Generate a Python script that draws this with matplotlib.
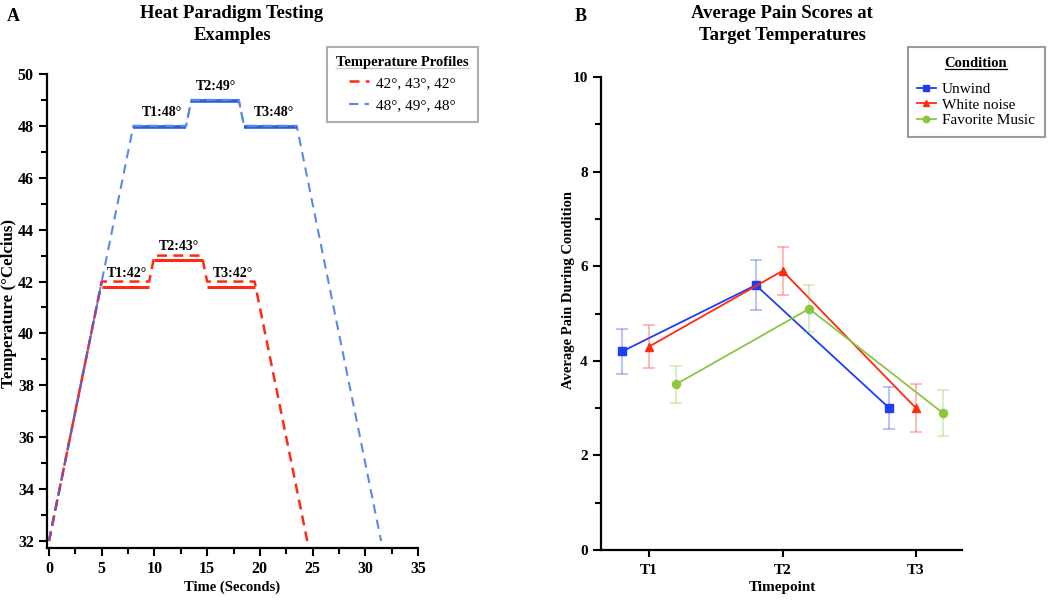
import matplotlib
matplotlib.use("Agg")
import matplotlib.pyplot as plt
from matplotlib.lines import Line2D
from matplotlib.patches import Rectangle
import numpy as np

plt.rcParams['font.family'] = ['Liberation Serif', 'DejaVu Serif']

# ---------------- Panel A data ----------------
red_time = [0, 5, 9.5, 10, 14.5, 15, 19.5, 24.5]
red_temp = [32, 42, 42, 43, 43, 42, 42, 32]
blue_time = [0, 8, 13, 13.5, 18, 18.5, 23.5, 31.5]
blue_temp = [32, 48, 48, 49, 49, 48, 48, 32]
ramp_time = [0, 5]
ramp_temp = [32, 42]
red_hold_start = [5, 10, 15]
red_hold_end = [9.5, 14.5, 19.5]
red_hold_temp = [41.8, 42.85, 41.8]
blue_hold_start = [8, 13.5, 18.5]
blue_hold_end = [13, 18, 23.5]
blue_hold_temp = [47.97, 48.97, 47.97]
red_labels = ["T1:42°", "T2:43°", "T3:42°"]
red_label_x = [7.4, 12.3, 17.4]
red_label_y = [42.05, 43.1, 42.05]
blue_labels = ["T1:48°", "T2:49°", "T3:48°"]
blue_label_x = [10.7, 15.8, 21.3]
blue_label_y = [48.25, 49.25, 48.25]
profile_names = ["42°, 43°, 42°", "48°, 49°, 48°"]

# ---------------- Panel B data ----------------
timepoints = ["T1", "T2", "T3"]
conditions = ["Unwind", "White noise", "Favorite Music"]
unwind_mean = [4.2, 5.6, 3.0]
unwind_err = [0.48, 0.53, 0.44]
white_mean = [4.3, 5.9, 3.0]
white_err = [0.45, 0.51, 0.5]
music_mean = [3.5, 5.1, 2.9]
music_err = [0.4, 0.5, 0.48]

W, H = 1050, 603
fig = plt.figure(figsize=(W / 100, H / 100), dpi=100)

def ax_rect(l, r, t, b):
    return [l / W, (H - b) / H, (r - l) / W, (b - t) / H]

RED = '#ff2a14'
BLUE_D = '#5a8ae6'
BLUE_S = '#2f5fd8'
PURPLE = '#7a52b0'

# ---------------- Panel A ----------------
axA = fig.add_axes(ax_rect(47, 418, 74, 548))
axA.plot(blue_time, blue_temp, color=BLUE_D, lw=1.5, dashes=(4.5, 3), label=profile_names[1])
axA.plot(red_time, red_temp, color=RED, lw=1.8, dashes=(4, 2.5), label=profile_names[0])
axA.plot(ramp_time, ramp_temp, color=PURPLE, lw=1.7, dashes=(4, 2.5), zorder=4)
axA.hlines(red_hold_temp, red_hold_start, red_hold_end, color=RED, lw=2.2)
axA.hlines(blue_hold_temp, blue_hold_start, blue_hold_end, color=BLUE_S, lw=2.6)
axA.plot(blue_time[1:7], blue_temp[1:7], color=BLUE_D, lw=1.5, dashes=(4.5, 3))
for s, x, y in zip(red_labels, red_label_x, red_label_y):
    axA.text(x, y, s, ha='center', va='bottom', fontsize=10, fontweight='bold')
for s, x, y in zip(blue_labels, blue_label_x, blue_label_y):
    axA.text(x, y, s, ha='center', va='bottom', fontsize=10, fontweight='bold')

axA.set_xlim(-0.19, 35)
axA.set_ylim(31.73, 50)
axA.set_xticks(np.arange(0, 36, 5))
axA.set_xticks(np.arange(2.5, 35, 5), minor=True)
axA.set_yticks(np.arange(32, 51, 2))
axA.set_yticks(np.arange(33, 50, 2), minor=True)
axA.set_xlabel("Time (Seconds)", fontsize=10.5, fontweight='bold')
axA.set_ylabel("Temperature (°Celcius)", fontsize=12.2, fontweight='bold')
axA.xaxis.set_label_coords((232 - 47) / 371, -(587 - 548) / 474)
axA.xaxis.label.set_va('center')
axA.yaxis.set_label_coords((17 - 47) / 371, (548 - 303) / 474)

# ---------------- Panel B ----------------
axB = fig.add_axes(ax_rect(601, 962, 77, 550))
xpos = np.arange(1, len(timepoints) + 1)
series = [
    (unwind_mean, unwind_err, -0.2, '#1f3df5', 's', 5.5),
    (white_mean, white_err, 0.0, '#ff2a14', '^', 5.5),
    (music_mean, music_err, 0.2, '#8cc63f', 'o', 5.8),
]
handles = []
for (m, e, off, c, mk, ms), name in zip(series, conditions):
    x = xpos + off
    axB.errorbar(x, m, yerr=e, fmt='none', ecolor=c, alpha=0.4, elinewidth=1.1, capsize=4, capthick=1.1)
    h, = axB.plot(x, m, color=c, lw=1.3, marker=mk, ms=ms, label=name)
    handles.append(h)

axB.set_xlim(0.64, 3.345)
axB.set_ylim(0, 10)
axB.set_xticks(xpos)
axB.set_xticklabels(timepoints)
axB.set_yticks(np.arange(0, 11, 2))
axB.set_yticks(np.arange(1, 10, 2), minor=True)
axB.set_xlabel("Timepoint", fontsize=11, fontweight='bold')
axB.set_ylabel("Average Pain During Condition", fontsize=10.5, fontweight='bold')
axB.xaxis.set_label_coords((782 - 601) / 361, -(588 - 550) / 473)
axB.xaxis.label.set_va('center')
axB.yaxis.set_label_coords((575 - 601) / 361, (550 - 290) / 473)

for ax in (axA, axB):
    for side in ('top', 'right'):
        ax.spines[side].set_visible(False)
    for side in ('left', 'bottom'):
        ax.spines[side].set_linewidth(1.6)
    ax.tick_params(which='major', direction='out', length=6, width=1.5, labelsize=11.5)
    ax.tick_params(which='minor', direction='out', length=4, width=1.5)
    for lab in ax.get_xticklabels() + ax.get_yticklabels():
        lab.set_fontweight('bold')
axB.tick_params(axis='x', which='major', length=5, pad=5, labelsize=11)
axB.tick_params(axis='y', labelsize=11)

# Titles
fig.text(232 / W, 1 - 5 / H, "Heat Paradigm Testing\nExamples", ha='center', va='top',
         fontsize=13.4, fontweight='bold', linespacing=1.4)
fig.text(782 / W, 1 - 5 / H, "Average Pain Scores at\nTarget Temperatures", ha='center', va='top',
         fontsize=13.4, fontweight='bold', linespacing=1.4)
fig.text(7 / W, 1 - 8 / H, "A", ha='left', va='top', fontsize=13, fontweight='bold')
fig.text(575 / W, 1 - 8 / H, "B", ha='left', va='top', fontsize=13, fontweight='bold')

# Legends
hA = axA.get_lines()
legA = fig.legend([hA[1], hA[0]], profile_names, loc='upper left',
                  bbox_to_anchor=(327 / W, 1 - 47 / H), title="Temperature Profiles",
                  fontsize=11, title_fontproperties={'weight': 'bold', 'size': 10.5},
                  frameon=True, fancybox=False, edgecolor='#9a9a9a', handlelength=1.3,
                  borderpad=0.6, labelspacing=0.6, handletextpad=0.5, borderaxespad=0)
legA.get_frame().set_linewidth(1.5)
legA._legend_box.sep = 5

legB = fig.legend(handles, conditions, loc='upper center',
                  bbox_to_anchor=(976 / W, 1 - 57 / H), title="Condition",
                  fontsize=11, title_fontproperties={'weight': 'bold', 'size': 10.5},
                  frameon=False, handlelength=1.2,
                  borderpad=0, labelspacing=0.12, handletextpad=0.4, borderaxespad=0,
                  markerscale=0.8)
legB._legend_box.sep = 9
fig.add_artist(Rectangle((908 / W, 1 - 137 / H), (1045 - 908) / W, 90 / H,
                         transform=fig.transFigure, fill=False, edgecolor='#9a9a9a', lw=1.5))

fig.canvas.draw()
for leg in (legA, legB):
    bb = leg.get_title().get_window_extent()
    y = bb.y0 + 1
    fig.add_artist(Line2D([bb.x0 / W, bb.x1 / W], [y / H, y / H], transform=fig.transFigure,
                          color='black', lw=0.9))

fig.savefig("out.png", dpi=100)
